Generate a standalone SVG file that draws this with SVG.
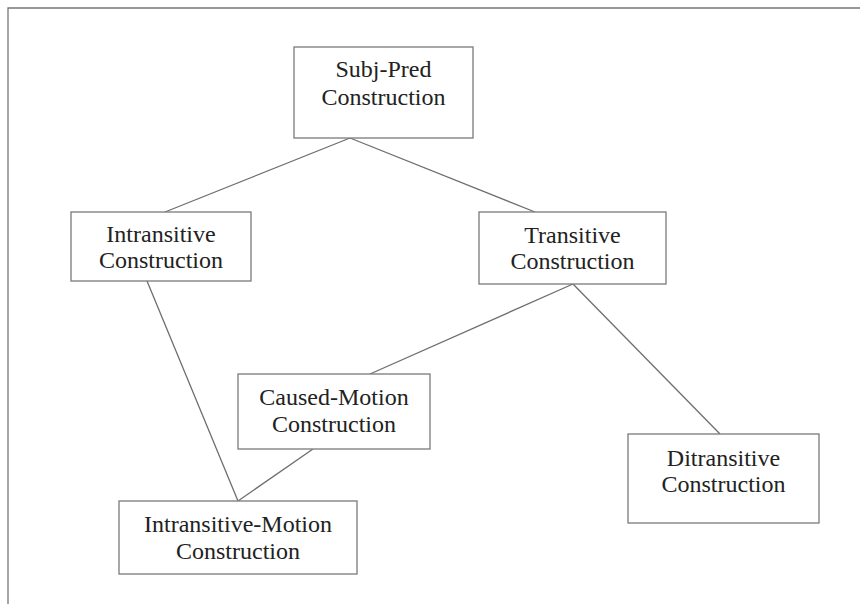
<svg xmlns="http://www.w3.org/2000/svg" width="860" height="604" viewBox="0 0 860 604">
<style>
.box{fill:#fff;stroke:#7a7a7a;stroke-width:1.3}
.lbl{font-family:"Liberation Serif","Times New Roman",serif;font-size:24px;fill:#222;text-anchor:middle}
.edge{stroke:#6e6e6e;stroke-width:1.3;fill:none}
.frame{stroke:#777;stroke-width:1.3;fill:none}
</style>
<rect width="860" height="604" fill="#fff"/>
<path class="frame" d="M8,604 V8 H860"/>
<g id="connectors">
<line class="edge" x1="350" y1="138" x2="165" y2="212"/>
<line class="edge" x1="350" y1="138" x2="535" y2="212"/>
<line class="edge" x1="573" y1="284" x2="370" y2="374"/>
<line class="edge" x1="573" y1="284" x2="720" y2="434"/>
<line class="edge" x1="147" y1="281" x2="238" y2="501"/>
<line class="edge" x1="313" y1="449" x2="238" y2="501"/>
</g>
<g id="subj-pred">
<rect class="box" x="294" y="47" width="179" height="91"/>
<text class="lbl" x="383.5" y="77">Subj-Pred</text>
<text class="lbl" x="383.5" y="105">Construction</text>
</g>
<g id="intransitive">
<rect class="box" x="71" y="212" width="180" height="69"/>
<text class="lbl" x="161" y="242">Intransitive</text>
<text class="lbl" x="161" y="268">Construction</text>
</g>
<g id="transitive">
<rect class="box" x="479" y="212" width="187" height="72"/>
<text class="lbl" x="572.5" y="243">Transitive</text>
<text class="lbl" x="572.5" y="269">Construction</text>
</g>
<g id="caused-motion">
<rect class="box" x="238" y="374" width="192" height="75"/>
<text class="lbl" x="334" y="405">Caused-Motion</text>
<text class="lbl" x="334" y="432">Construction</text>
</g>
<g id="ditransitive">
<rect class="box" x="628" y="434" width="191" height="89"/>
<text class="lbl" x="723.5" y="466">Ditransitive</text>
<text class="lbl" x="723.5" y="492">Construction</text>
</g>
<g id="intransitive-motion">
<rect class="box" x="119" y="501" width="238" height="73"/>
<text class="lbl" x="238" y="532">Intransitive-Motion</text>
<text class="lbl" x="238" y="559">Construction</text>
</g>
</svg>
